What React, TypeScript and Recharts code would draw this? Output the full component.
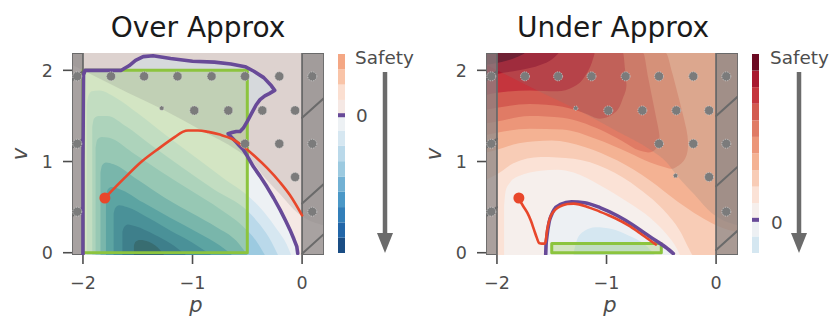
import React from 'react';
import {
  ComposedChart, Area, Line, Scatter, XAxis, YAxis, BarChart, Bar, ReferenceLine,
} from 'recharts';

type P = [number, number];
type R = [number, number, number];

const FONT = '"DejaVu Sans", "Liberation Sans", sans-serif';
const YB = -0.025;
const YT = 2.19;
const X_DOMAIN: [number, number] = [-2.1, 0.2];
const Y_DOMAIN: [number, number] = [YB, YT];
const X_TICKS = [-2, -1, 0];
const Y_TICKS = [0, 1, 2];

// ---------- colours ----------
const PURPLE = '#684a98';
const RED = '#e8472b';
const GREEN = '#8cc43e';
const BAR_GRAY = '#8a8686';
const EDGE = '#6a6a6a';

// Left ("Over Approx") levels
const leftPos = ['#f5e8e4', '#fbdfd1', '#f9c4a8', '#f4a784'];
const leftNeg = ['#edf1f4', '#d6e7f1', '#bad9ea', '#9ccae0', '#72b1d4', '#4b98c7', '#327fb9', '#2266a8', '#1a4d84'];
// Right ("Under Approx") levels
const rightPos = ['#f6efec', '#fbe2d6', '#f8ccb6', '#f4b293', '#ec9679', '#e07b65', '#d35b50', '#c5353d', '#a8182e', '#6c0a22'];
const rightNeg = ['#edf0f3', '#d5e7f1'];

// ---------- shared: hatched region (dots) ----------
const hatchBoundary: P[] = [
  [-2.1, 2.06], [-2.0, 2.0], [-1.6, 1.76], [-1.28, 1.575], [-0.9, 1.33], [-0.6, 1.13],
  [-0.45, 0.99], [-0.36, 0.85], [-0.2, 0.64], [-0.08, 0.48], [0.0, 0.4], [0.2, 0.3],
];
const dotsFull: P[] = [
  [-2.052, 1.934], [-1.744, 1.934], [-1.442, 1.934], [-1.137, 1.934], [-0.826, 1.934], [-0.521, 1.934], [-0.208, 1.934], [0.093, 1.934],
  [-0.984, 1.56], [-0.673, 1.56], [-0.363, 1.56], [-0.064, 1.56],
  [-2.052, 1.195], [-0.521, 1.195], [-0.208, 1.195], [0.093, 1.195],
  [-0.064, 0.83],
  [-2.052, 0.45], [0.093, 0.45],
];
const dotsPartialLeft: P[] = [[-1.281, 1.585]];
const dotsPartialRight: P[] = [[-1.281, 1.585], [-0.37, 0.845]];

// ---------- LEFT panel data ----------
const leftPurple: P[] = [
  [-2.0, -0.02], [-2.0, 1.0], [-1.995, 1.95], [-1.98, 2.0], [-1.9, 2.0], [-1.75, 2.0], [-1.65, 2.0],
  [-1.58, 2.05], [-1.52, 2.11], [-1.45, 2.15], [-1.36, 2.16], [-1.2, 2.13], [-1.0, 2.1], [-0.8, 2.09],
  [-0.65, 2.07], [-0.52, 2.04], [-0.44, 1.99], [-0.35, 1.92], [-0.28, 1.83], [-0.25, 1.78],
  [-0.3, 1.745], [-0.34, 1.72], [-0.384, 1.678], [-0.42, 1.62], [-0.46, 1.53], [-0.5, 1.44],
  [-0.536, 1.367], [-0.566, 1.33], [-0.6, 1.33], [-0.64, 1.318], [-0.675, 1.305], [-0.64, 1.26],
  [-0.6, 1.21], [-0.57, 1.17], [-0.536, 1.129], [-0.5, 1.06], [-0.445, 0.945], [-0.384, 0.84],
  [-0.322, 0.725], [-0.26, 0.6], [-0.2, 0.47], [-0.15, 0.35], [-0.11, 0.25], [-0.075, 0.15],
  [-0.048, 0.066], [-0.04, -0.007],
];
const leftInsideTop: P[] = [
  [-2.0, 2.0], [-1.9, 2.0], [-1.75, 2.0], [-1.65, 2.0], [-1.58, 2.05], [-1.52, 2.11], [-1.45, 2.15],
  [-1.36, 2.16], [-1.2, 2.13], [-1.0, 2.1], [-0.8, 2.09], [-0.65, 2.07], [-0.52, 2.04], [-0.44, 1.99],
  [-0.35, 1.92], [-0.28, 1.83], [-0.25, 1.78], [-0.2, 0.47], [-0.11, 0.25], [-0.06, 0.1], [-0.045, YB],
];
const leftNotch: R[] = [
  [-0.675, 1.305, 1.305], [-0.64, 1.26, 1.318], [-0.6, 1.21, 1.33], [-0.57, 1.17, 1.335],
  [-0.536, 1.129, 1.367], [-0.5, 1.06, 1.44], [-0.46, 0.975, 1.53], [-0.42, 0.9, 1.62],
  [-0.384, 0.84, 1.678], [-0.34, 0.76, 1.72], [-0.3, 0.68, 1.745], [-0.255, 0.59, 1.78],
  [-0.245, 0.57, YT], [-0.2, 0.47, YT], [-0.11, 0.25, YT], [-0.06, 0.1, YT], [-0.04, YB, YT], [0.2, YB, YT],
];
const leftLevelTops: P[][] = [
  [[-1.965, 1.62], [-1.95, 1.72], [-1.92, 1.77], [-1.85, 1.78], [-1.7, 1.7], [-1.5, 1.53], [-1.2, 1.25], [-0.9, 0.98], [-0.7, 0.8], [-0.5, 0.63], [-0.35, 0.45], [-0.22, 0.24], [-0.14, 0.09], [-0.1, YB]],
  [[-1.915, 1.38], [-1.9, 1.47], [-1.86, 1.5], [-1.78, 1.5], [-1.6, 1.38], [-1.4, 1.2], [-1.1, 0.94], [-0.8, 0.69], [-0.5, 0.46], [-0.38, 0.3], [-0.28, 0.12], [-0.22, YB]],
  [[-1.885, 1.15], [-1.87, 1.24], [-1.83, 1.27], [-1.76, 1.26], [-1.55, 1.1], [-1.3, 0.9], [-1.0, 0.67], [-0.75, 0.48], [-0.55, 0.3], [-0.42, 0.13], [-0.34, YB]],
  [[-1.84, 0.88], [-1.825, 0.96], [-1.79, 0.99], [-1.72, 0.97], [-1.5, 0.8], [-1.25, 0.6], [-1.0, 0.43], [-0.78, 0.28], [-0.6, 0.13], [-0.5, YB]],
  [[-1.79, 0.62], [-1.775, 0.69], [-1.74, 0.72], [-1.67, 0.7], [-1.45, 0.55], [-1.2, 0.38], [-0.95, 0.22], [-0.75, 0.08], [-0.64, YB]],
  [[-1.72, 0.43], [-1.705, 0.49], [-1.67, 0.52], [-1.6, 0.5], [-1.4, 0.38], [-1.2, 0.24], [-1.0, 0.11], [-0.83, YB]],
  [[-1.64, 0.23], [-1.625, 0.28], [-1.59, 0.31], [-1.52, 0.29], [-1.35, 0.2], [-1.2, 0.1], [-1.06, YB]],
  [[-1.535, 0.08], [-1.52, 0.12], [-1.48, 0.14], [-1.4, 0.12], [-1.32, 0.06], [-1.26, YB]],
];
const leftRed: P[] = [
  [-1.8, 0.6], [-1.62, 0.82], [-1.464, 1.0], [-1.3, 1.15], [-1.16, 1.27], [-1.09, 1.325], [-1.04, 1.34],
  [-0.95, 1.34], [-0.856, 1.325], [-0.75, 1.295], [-0.642, 1.25], [-0.53, 1.16], [-0.429, 1.055],
  [-0.32, 0.93], [-0.2, 0.77], [-0.11, 0.63], [0.0, 0.41],
];
const leftStart: P[] = [[-1.8, 0.6]];
const leftRect: P[] = [[-2.0, 0.0], [-2.0, 2.0], [-0.5, 2.0], [-0.5, 0.0], [-2.0, 0.0]];
const leftRectFill: R[] = [[-2.0, 0.0, 2.0], [-0.5, 0.0, 2.0]];
const leftRightBarHatch = [-0.01, 0.54, 1.48];
const leftLeftBarHatch = [0.4, 1.15, 1.89];

// ---------- RIGHT panel data ----------
const rightLevelRegions: R[][] = [
  // >= P3
  [[-2.1, 0.8, YT], [-2.0, 0.86, YT], [-1.85, 0.98, YT], [-1.6, 1.05, YT], [-1.3, 1.03, YT], [-1.0, 0.92, YT], [-0.7, 0.7, YT], [-0.45, 0.43, YT], [-0.32, 0.22, YT], [-0.25, 0.05, YT], [-0.21, YB, YT], [0.2, YB, YT]],
  // >= P4
  [[-2.1, 1.1, YT], [-2.0, 1.13, YT], [-1.8, 1.2, YT], [-1.5, 1.23, YT], [-1.2, 1.16, YT], [-0.9, 1.01, YT], [-0.6, 0.79, YT], [-0.35, 0.56, YT], [-0.15, 0.4, YT], [0.0, 0.3, YT], [0.2, 0.22, YT]],
  // >= P5
  [[-2.1, 1.29, YT], [-2.0, 1.315, YT], [-1.7, 1.36, YT], [-1.4, 1.35, YT], [-1.1, 1.25, YT], [-0.8, 1.1, YT], [-0.6, 0.99, YT], [-0.46, 0.935, YT], [-0.4, 0.92, 1.97], [-0.35, 0.95, 1.74], [-0.31, 0.99, 1.55], [-0.28, 1.04, 1.4], [-0.265, 1.09, 1.31], [-0.258, 1.14, 1.24], [-0.256, 1.19, 1.19]],
  // >= P6
  [[-2.1, 1.42, YT], [-2.0, 1.44, YT], [-1.7, 1.5, YT], [-1.4, 1.48, YT], [-1.06, 1.35, YT], [-0.85, 1.22, YT], [-0.7, 1.12, YT], [-0.666, 1.11, YT], [-0.62, 1.1, 1.92], [-0.58, 1.11, 1.68], [-0.55, 1.14, 1.5], [-0.53, 1.19, 1.38], [-0.52, 1.24, 1.31], [-0.517, 1.28, 1.28]],
  // >= P7
  [[-2.1, 1.57, YT], [-2.0, 1.59, YT], [-1.7, 1.63, YT], [-1.4, 1.6, YT], [-1.2, 1.53, YT], [-1.06, 1.47, YT], [-0.94, 1.52, YT], [-0.87, 1.63, YT], [-0.849, 1.7, YT], [-0.83, 1.76, 2.0], [-0.82, 1.81, 1.87], [-0.818, 1.84, 1.84]],
  // >= P8
  [[-2.1, 1.73, YT], [-2.0, 1.755, YT], [-1.7, 1.78, YT], [-1.45, 1.77, YT], [-1.3, 1.82, YT], [-1.2, 1.93, YT], [-1.13, 2.1, YT], [-1.11, 2.18, YT]],
  // >= P9
  [[-2.1, 1.93, YT], [-2.0, 1.96, YT], [-1.8, 2.0, YT], [-1.6, 2.06, YT], [-1.5, 2.12, YT], [-1.44, 2.185, YT]],
  // >= P10
  [[-2.1, 2.06, YT], [-2.0, 2.08, YT], [-1.85, 2.13, YT], [-1.75, 2.185, YT]],
];
const rightP1Top: P[] = [
  [-1.935, 0.5], [-1.92, 0.68], [-1.88, 0.77], [-1.8, 0.84], [-1.6, 0.9], [-1.45, 0.91], [-1.3, 0.88],
  [-1.06, 0.74], [-0.8, 0.55], [-0.6, 0.38], [-0.45, 0.2], [-0.36, 0.05], [-0.33, YB],
];
const rightPurple: P[] = [
  [-1.555, -0.015], [-1.552, 0.08], [-1.545, 0.17], [-1.525, 0.33], [-1.5, 0.42], [-1.48, 0.47],
  [-1.42, 0.53], [-1.32, 0.558], [-1.2, 0.548], [-1.06, 0.495], [-0.9, 0.405], [-0.76, 0.305],
  [-0.64, 0.205], [-0.54, 0.125], [-0.46, 0.06], [-0.39, -0.01],
];
const rightN2Top: P[] = [
  [-1.3, 0.0], [-1.27, 0.14], [-1.2, 0.24], [-1.1, 0.28], [-0.95, 0.26], [-0.8, 0.19], [-0.65, 0.09], [-0.56, YB],
];
const rightRed: P[] = [
  [-1.8, 0.59], [-1.76, 0.51], [-1.722, 0.436], [-1.69, 0.35], [-1.662, 0.253], [-1.635, 0.16],
  [-1.616, 0.107], [-1.59, 0.1], [-1.562, 0.1], [-1.552, 0.15], [-1.546, 0.216], [-1.53, 0.32],
  [-1.51, 0.4], [-1.48, 0.455], [-1.448, 0.49], [-1.4, 0.52], [-1.357, 0.535], [-1.3, 0.538],
  [-1.25, 0.53], [-1.18, 0.505], [-1.1, 0.47], [-1.0, 0.42], [-0.916, 0.375], [-0.8, 0.3],
  [-0.697, 0.216], [-0.62, 0.15], [-0.55, 0.09],
];
const rightStart: P[] = [[-1.8, 0.6]];
const rightRect: P[] = [[-1.5, 0.0], [-1.5, 0.1], [-0.5, 0.1], [-0.5, 0.0], [-1.5, 0.0]];
const rightRectFill: R[] = [[-1.5, 0.0, 0.1], [-0.5, 0.0, 0.1]];
const rightRightBarHatch = [0.03, 0.73, 1.5];
const rightLeftBarHatch = [0.4, 1.15, 1.89];

// ---------- helpers ----------
const toLine = (pts: P[]) => pts.map(([p, v]) => ({ p, v }));
const toRange = (pts: R[]) => pts.map(([p, lo, hi]) => ({ p, r: [lo, hi] }));
const fromBottom = (pts: P[]) => pts.map(([p, v]) => ({ p, r: [YB, v] }));
const toTop = (pts: P[]) => pts.map(([p, v]) => ({ p, r: [v, YT] }));
const fullSpan = (a: number, b: number) => toRange([[a, YB, YT], [b, YB, YT]]);
const boxLine = (a: number, b: number): P[] => [[a, YB], [a, YT], [b, YT], [b, YB], [a, YB]];

const fmt = (v: number) => (v < 0 ? '\u2212' + Math.abs(v) : String(v));

const area = (key: string, data: any[], color: string, opacity = 1, type: any = 'monotone') => (
  <Area key={key} data={data} dataKey="r" type={type} stroke="none" fill={color} fillOpacity={opacity}
    isAnimationActive={false} dot={false} activeDot={false} legendType="none" />
);
const line = (key: string, pts: P[], color: string, width: number, type: any = 'linear') => (
  <Line key={key} data={toLine(pts)} dataKey="v" type={type} stroke={color} strokeWidth={width}
    dot={false} activeDot={false} isAnimationActive={false} legendType="none" strokeLinejoin="round" strokeLinecap="round" />
);

const dotShape = (r: number) => (pr: any) => (
  <circle cx={pr.cx} cy={pr.cy} r={r} fill="#7b7b7b" stroke="#cfcfcf" strokeWidth={0.8} strokeDasharray="1.3 1.1" />
);
const startShape = (pr: any) => <circle cx={pr.cx} cy={pr.cy} r={5.5} fill={RED} />;

const axes = () => [
  <XAxis key="xa" dataKey="p" type="number" domain={X_DOMAIN} ticks={X_TICKS} allowDataOverflow height={78}
    axisLine={false} tickLine={{ stroke: '#4d4d4d', strokeWidth: 1.6 }} tickSize={9} tickMargin={13} interval={0}
    tick={{ fill: '#4d4d4d', fontSize: 17.5, fontFamily: FONT }} tickFormatter={fmt} />,
  <YAxis key="ya" dataKey="v" type="number" domain={Y_DOMAIN} ticks={Y_TICKS} allowDataOverflow width={60}
    axisLine={false} tickLine={{ stroke: '#4d4d4d', strokeWidth: 1.6 }} tickSize={9} tickMargin={10} interval={0}
    tick={{ fill: '#4d4d4d', fontSize: 17.5, fontFamily: FONT }} tickFormatter={fmt} />,
];

const bars = () => [
  area('barL', fullSpan(-2.1, -2.0), BAR_GRAY, 0.72, 'linear'),
  area('barR', fullSpan(0.0, 0.2), BAR_GRAY, 0.72, 'linear'),
];
const barLines = (leftHatch: number[], rightHatch: number[]) => [
  ...rightHatch.map((v, i) => line('hr' + i, [[0.0, v], [0.195, v + 0.21]], EDGE, 2)),
  ...leftHatch.map((v, i) => line('hl' + i, [[-2.1, v], [-2.0, v + 0.1]], EDGE, 2)),
  line('bl', boxLine(-2.1, -2.0), EDGE, 1.8),
  line('br', boxLine(0.0, 0.2), EDGE, 1.8),
];

const MARGIN = { top: 53, right: 6, bottom: 0, left: 12 };

function LeftPanel() {
  return (
    <ComposedChart width={330} height={333} margin={MARGIN}>
      {axes()}
      {area('bg', fullSpan(-2.1, 0.2), leftPos[0], 1, 'linear')}
      {area('inside', fromBottom(leftInsideTop), leftNeg[0])}
      {area('notch', toRange(leftNotch), leftPos[0])}
      {leftLevelTops.map((pts, i) => area('lv' + i, fromBottom(pts), leftNeg[i + 1]))}
      {area('rectFill', toRange(leftRectFill), GREEN, 0.27, 'linear')}
      {area('hatch', toTop(hatchBoundary), '#7f7f7f', 0.2)}
      {bars()}
      {line('rect', leftRect, GREEN, 3)}
      {barLines(leftLeftBarHatch, leftRightBarHatch)}
      {line('purple', leftPurple, PURPLE, 3.6)}
      {line('red', leftRed, RED, 2.6, 'monotone')}
      <Scatter key="dots" data={toLine(dotsFull)} shape={dotShape(4.5)} isAnimationActive={false} legendType="none" />
      <Scatter key="dotsP" data={toLine(dotsPartialLeft)} shape={dotShape(2.2)} isAnimationActive={false} legendType="none" />
      <Scatter key="start" data={toLine(leftStart)} shape={startShape} isAnimationActive={false} legendType="none" />
    </ComposedChart>
  );
}

function RightPanel() {
  return (
    <ComposedChart width={330} height={333} margin={MARGIN}>
      {axes()}
      {area('bg', fullSpan(-2.1, 0.2), rightPos[1], 1, 'linear')}
      {rightLevelRegions.map((pts, i) => area('lv' + i, toRange(pts), rightPos[i + 2]))}
      {area('p1', fromBottom(rightP1Top), rightPos[0])}
      {area('n1', fromBottom(rightPurple), rightNeg[0])}
      {area('n2', fromBottom(rightN2Top), rightNeg[1])}
      {area('rectFill', toRange(rightRectFill), GREEN, 0.27, 'linear')}
      {area('hatch', toTop(hatchBoundary), '#7f7f7f', 0.2)}
      {bars()}
      {line('rect', rightRect, GREEN, 3)}
      {barLines(rightLeftBarHatch, rightRightBarHatch)}
      {line('purple', rightPurple, PURPLE, 3.6, 'monotone')}
      {line('red', rightRed, RED, 2.6, 'monotone')}
      <Scatter key="dots" data={toLine(dotsFull)} shape={dotShape(4.5)} isAnimationActive={false} legendType="none" />
      <Scatter key="dotsP" data={toLine(dotsPartialRight)} shape={dotShape(2.2)} isAnimationActive={false} legendType="none" />
      <Scatter key="start" data={toLine(rightStart)} shape={startShape} isAnimationActive={false} legendType="none" />
    </ComposedChart>
  );
}

function ColorBar({ neg, pos }: { neg: string[]; pos: string[] }) {
  const colors = [...neg.slice().reverse(), ...pos]; // bottom -> top
  const row: any = { name: 'c' };
  colors.forEach((_, i) => { row['k' + i] = 1; });
  return (
    <BarChart width={7} height={199} data={[row]} margin={{ top: 0, right: 0, bottom: 0, left: 0 }} barCategoryGap={0} barGap={0}>
      <XAxis dataKey="name" hide />
      <YAxis hide type="number" domain={[0, colors.length]} allowDataOverflow />
      {colors.map((c, i) => (
        <Bar key={'k' + i} dataKey={'k' + i} stackId="s" fill={c} isAnimationActive={false} />
      ))}
      <ReferenceLine y={neg.length} stroke={PURPLE} strokeWidth={4} />
    </BarChart>
  );
}

function Arrow({ x }: { x: number }) {
  return (
    <g>
      <line x1={x} y1={72} x2={x} y2={236} stroke="#6b6b6b" strokeWidth={4.5} />
      <polygon points={`${x - 8},${233} ${x + 8},${233} ${x},${253}`} fill="#6b6b6b" />
    </g>
  );
}

export default function App() {
  const textStyle: React.CSSProperties = { fontFamily: FONT };
  return (
    <div style={{ position: 'absolute', left: 0, top: 0, width: 830, height: 333, background: '#fff' }}>
      <div style={{ position: 'absolute', left: 0, top: 0 }}><LeftPanel /></div>
      <div style={{ position: 'absolute', left: 414, top: 0 }}><RightPanel /></div>
      <div style={{ position: 'absolute', left: 338, top: 54 }}><ColorBar neg={leftNeg} pos={leftPos} /></div>
      <div style={{ position: 'absolute', left: 752, top: 54 }}><ColorBar neg={rightNeg} pos={rightPos} /></div>
      <svg width={830} height={333} style={{ position: 'absolute', left: 0, top: 0, pointerEvents: 'none' }}>
        <g style={textStyle}>
          <text x={198} y={36.5} fontSize={28} textAnchor="middle" fill="#1a1a1a">Over Approx</text>
          <text x={613} y={36.5} fontSize={28} textAnchor="middle" fill="#1a1a1a">Under Approx</text>
          <text x={196} y={312} fontSize={21} fontStyle="italic" textAnchor="middle" fill="#4d4d4d">p</text>
          <text x={610} y={312} fontSize={21} fontStyle="italic" textAnchor="middle" fill="#4d4d4d">p</text>
          <text x={27} y={154} fontSize={21} fontStyle="italic" textAnchor="middle" fill="#4d4d4d" transform="rotate(-90 27 154)">v</text>
          <text x={441} y={154} fontSize={21} fontStyle="italic" textAnchor="middle" fill="#4d4d4d" transform="rotate(-90 441 154)">v</text>
          <text x={355} y={64} fontSize={18.4} fill="#4d4d4d">Safety</text>
          <text x={770} y={64} fontSize={18.4} fill="#4d4d4d">Safety</text>
          <text x={356} y={122} fontSize={18.4} fill="#4d4d4d">0</text>
          <text x={771} y={228.5} fontSize={18.4} fill="#4d4d4d">0</text>
        </g>
        <Arrow x={385} />
        <Arrow x={799} />
      </svg>
    </div>
  );
}
